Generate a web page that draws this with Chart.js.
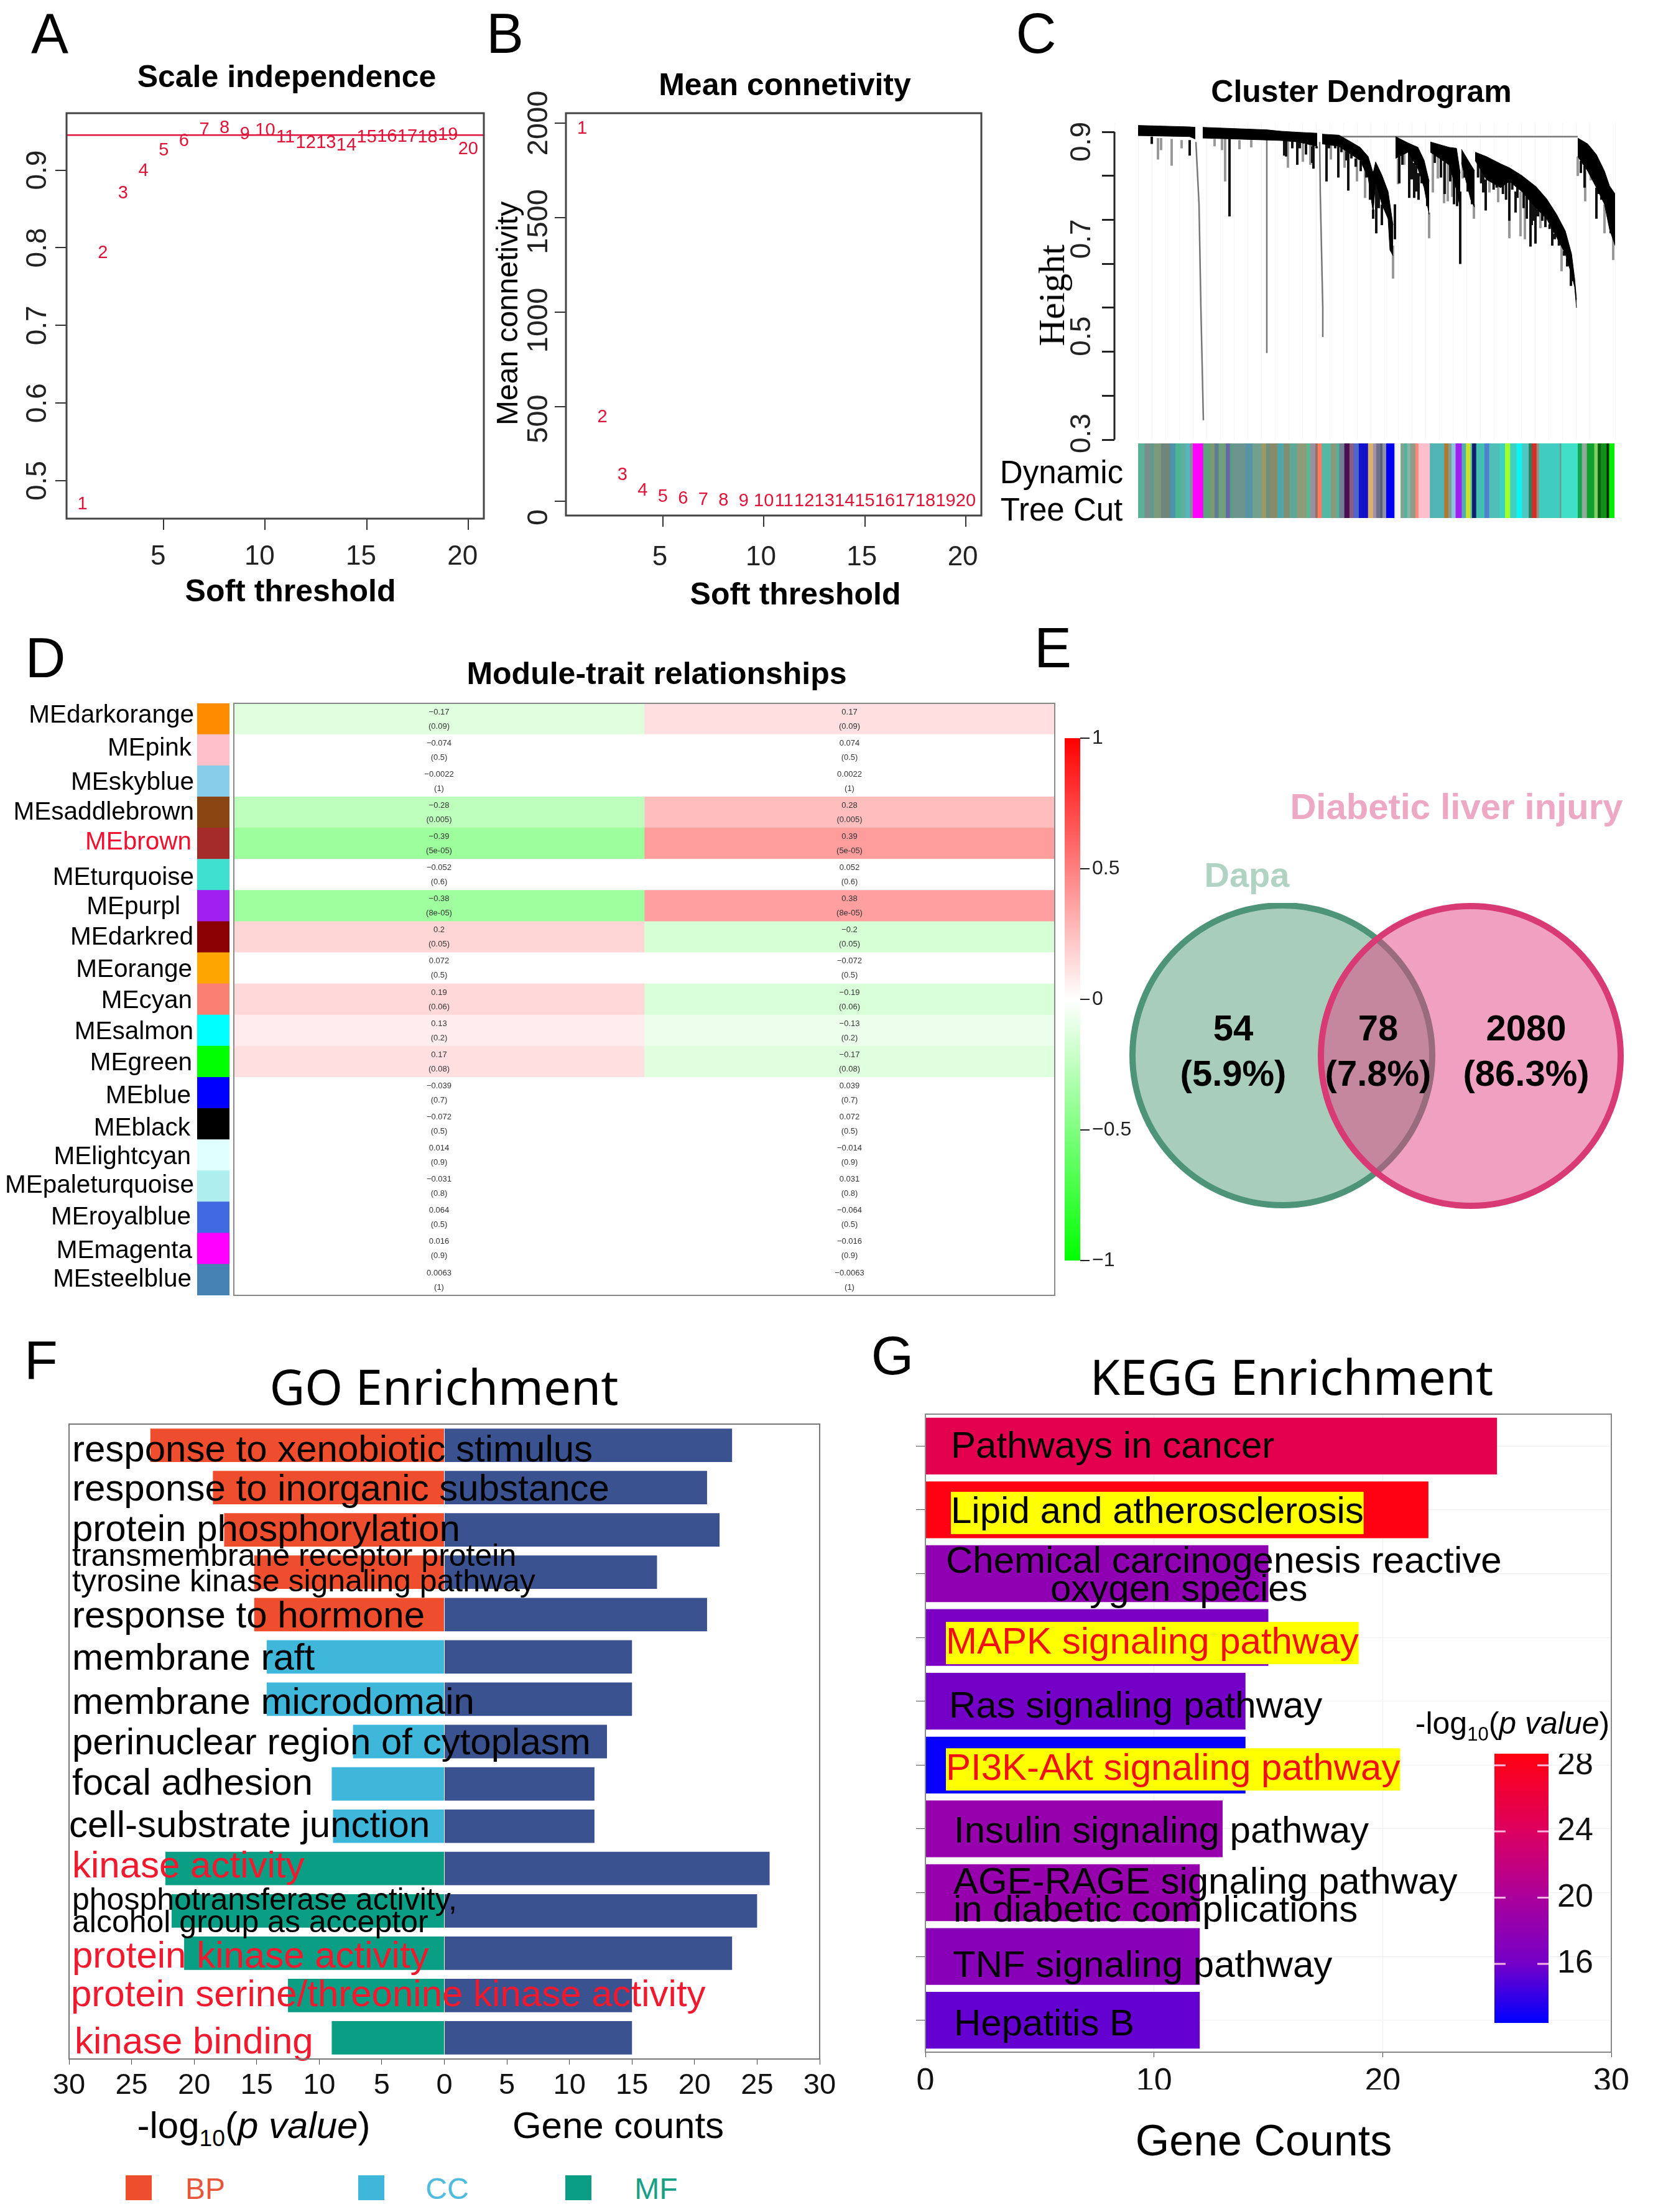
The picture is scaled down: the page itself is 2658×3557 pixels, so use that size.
<!DOCTYPE html>
<html><head><meta charset="utf-8">
<script src="https://cdn.jsdelivr.net/npm/chart.js@4"></script>
<style>
html,body{margin:0;padding:0;background:#fff}
#page{position:relative;width:2658px;height:3557px;overflow:hidden;background:#fff;font-family:"Liberation Sans",Arial,sans-serif}
canvas{position:absolute}
.t{position:absolute;white-space:nowrap;line-height:1;color:#000}
sub{font-size:.62em;line-height:0}
</style></head><body><div id="page"></div>
<script>
// ---------- Panel A / B ----------
const softPower=[1,2,3,4,5,6,7,8,9,10,11,12,13,14,15,16,17,18,19,20];
const scaleFit=[0.470,0.793,0.870,0.899,0.925,0.937,0.952,0.954,0.946,0.951,0.942,0.935,0.935,0.932,0.942,0.943,0.943,0.942,0.945,0.927];
const cutoffLine=[0.945,0.945];
const meanConn=[1969,445,140,55,25,14,8,4,2,1,1,1,1,1,1,1,1,1,1,1];
const fitTicks=[0.5,0.6,0.7,0.8,0.9];
const connTicks=[0,500,1000,1500,2000];
const powerTicks=[5,10,15,20];
// ---------- Panel C: dendrogram ----------
const bandX=[0,83,92,98,104,207,230,257,288,292,296,323,337,357,370,378,382,392,402,405,410,412,414,434,450,460,468,469,470,500,512,518,519,520,535,541,541.5,542,560,583,597,617,640,657,673,687,697,702,705,706,707,723,737,750,758,767];
const bandTop=[.923,.920,.919,NaN,.919,.914,.911,.909,.907,NaN,.905,.903,.893,.878,.859,.825,.848,.821,.787,.761,.718,NaN,.900,.887,.878,.851,.808,NaN,.889,.878,.876,.825,NaN,.874,.842,.830,NaN,.868,.859,.844,.836,.820,.797,.772,.740,.706,.659,.608,.565,NaN,.897,.885,.863,.829,.799,.782];
const bandBot=[.902,.900,.895,NaN,.897,.893,.892,.889,.880,NaN,.885,.880,.868,.851,.816,.744,.808,.761,.731,.667,.655,NaN,.855,.868,.834,.795,.740,NaN,.868,.842,.791,.753,NaN,.846,.770,.755,NaN,.851,.812,.795,.808,.787,.753,.731,.693,.659,.616,.591,.548,NaN,.859,.829,.795,.761,.710,.676];
const darkX=[22,83,147,235,256,282,303,322,338,383,413,436,444,451,518,559,597,607,631,639,666,696,737,760,546.7,551.7,555,566.7,571.7,576.7,586.7,591.7,601.7,610,620,625,633,636.7,643,650,655,661.7,670,676.7,685,690,698,420,425,440,447,456,462,465,477,487,493,502,508,513,525,530,537,373,378,387,392,397,403,407,712,718,732,740,745,755,238,248,260,270,280,287,307,317,327,335,343,350,358,367];
const darkTop=[.900,.893,.895,.893,.889,.885,.885,.880,.872,.825,.761,.876,.846,.825,.787,.812,.808,.787,.782,.782,.718,.634,.795,.710,.845,.84,.83,.83,.825,.82,.81,.81,.81,.80,.785,.78,.77,.76,.75,.745,.735,.72,.70,.69,.665,.65,.62,.86,.87,.86,.84,.83,.81,.77,.868,.86,.85,.84,.82,.80,.85,.83,.78,.82,.75,.80,.76,.77,.74,.70,.85,.84,.83,.80,.79,.76,.892,.89,.889,.885,.88,.88,.885,.882,.88,.87,.865,.855,.85,.83];
const darkBot=[.885,.861,.736,.861,.842,.834,.808,.816,.789,.701,.689,.774,.774,.770,.638,.748,.727,.744,.674,.680,.676,.593,.731,.701,.816,.804,.785,.808,.791,.795,.782,.77,.791,.774,.753,.731,.718,.727,.736,.727,.714,.71,.689,.676,.655,.633,.603,.804,.842,.812,.787,.804,.791,.757,.846,.816,.782,.808,.761,.757,.816,.787,.761,.77,.731,.753,.718,.753,.731,.667,.825,.795,.816,.782,.77,.74,.859,.876,.876,.863,.846,.876,.876,.876,.868,.851,.855,.838,.829,.816];
const grayX=[32,37,54,70,123,135,140,163,182,241,265,277,310,332,352,365,392,410,418,428,468,474,482,492,498,505,522,540,565,579,597,615,622,647,681,707,719,728,750,764];
const grayTop=[.897,.897,.895,.893,.895,.895,.895,.893,.893,.893,.889,.889,.885,.880,.859,.846,.761,.676,.855,.876,.744,.868,.868,.846,.846,.846,.846,.761,.825,.804,.808,.787,.787,.753,.676,.859,.829,.834,.761,.782];
const grayBot=[.853,.872,.840,.876,.880,.872,.808,.874,.878,.836,.848,.842,.853,.836,.808,.774,.718,.608,.802,.842,.691,.785,.814,.763,.767,.776,.814,.731,.785,.765,.691,.695,.689,.712,.623,.819,.767,.810,.701,.646];
const thinX=[93,98,101,105,NaN,207,207,NaN,292,293,297,297,NaN,323,707];
const thinY=[.889,.761,.548,.317,NaN,.914,.455,NaN,.889,.782,.548,.488,NaN,.900,.900];
const dendroMarks=[.9098,.8194,.7290,.6386,.5482,.4578,.3674,.277];
const dendroLabels=[.3,.5,.7,.9];
const stripColors=['#5CB09A','#7A8F8A','#5B9A8E','#7C9A7A','#70857C','#4C93AC','#4FB496','#5FAE9E','#55B5C0','#8A8FA0','#FF00FF','#5FA37E','#7E9A6C','#5C7F95','#6FA07A','#6868A8','#5A9F80','#6E9490','#5593A5','#73A08E','#A09A60','#6F9080','#8A8A68','#4FA5AA','#7F8F70','#5EA898','#8F9A78','#5CB890','#9A8FA0','#8F6F60','#FF7A60','#55B8A5','#8A9A78','#55B09A','#6F8095','#4A0F50','#8A5A85','#4F68C8','#1212C8','#D8B070','#A090A8','#70708A','#50607A','#9090A0','#0000F0','#DDD8C0','#F4F4F0','#7FA590','#55B0A0','#7FB8A8','#8F9A88','#FF8A78','#FFC0CB','#50B4B4','#B07830','#7FA090','#8FC0E0','#A020F0','#50B0B0','#C8E030','#50B8B0','#10206E','#40C0B0','#4F80D0','#4FC0B8','#40D0C0','#A0FF30','#40D0C0','#10F0F0','#50C8C0','#2A8060','#D03028','#A08A78','#40CCC0','#6F9A90','#40E0C8','#10A850','#90A898','#10A030','#80D060','#0E6018','#109018','#0A2A0A','#00F000'];
const stripSizes=[30,30,15,35,45,25,30,20,20,15,50,35,20,20,35,20,15,60,35,45,20,20,35,30,30,35,45,20,25,10,20,45,25,15,25,25,20,25,45,25,15,20,10,18,40,4,26,17,15,15,25,15,55,70,20,15,20,30,20,23,7,20,40,23,50,27,25,30,28,32,15,23,12,100,8,80,20,24,36,17,15,28,12,27];
// ---------- Panel D ----------
const modules=['MEdarkorange','MEpink','MEskyblue','MEsaddlebrown','MEbrown','MEturquoise','MEpurpl','MEdarkred','MEorange','MEcyan','MEsalmon','MEgreen','MEblue','MEblack','MElightcyan','MEpaleturquoise','MEroyalblue','MEmagenta','MEsteelblue'];
const moduleColors=['#FF8C00','#FFC0CB','#87CEEB','#8B4513','#A52A2A','#40E0D0','#A020F0','#8B0000','#FFA500','#FA8072','#00FFFF','#00FF00','#0000FF','#000000','#E0FFFF','#AFEEEE','#4169E1','#FF00FF','#4682B4'];
const traitOne=[-0.17,-0.074,-0.0022,-0.28,-0.39,-0.052,-0.38,0.2,0.072,0.19,0.13,0.17,-0.039,-0.072,0.014,-0.031,0.064,0.016,0.0063];
const traitTwo=[0.17,0.074,0.0022,0.28,0.39,0.052,0.38,-0.2,-0.072,-0.19,-0.13,-0.17,0.039,0.072,-0.014,0.031,-0.064,-0.016,-0.0063];
const traitP=['0.09','0.5','1','0.005','5e-05','0.6','8e-05','0.05','0.5','0.06','0.2','0.08','0.7','0.5','0.9','0.8','0.5','0.9','1'];
const corrTicks=[-1,-0.5,0,0.5,1];
// ---------- Panel E ----------
const vennNames=['Dapa','Diabetic liver injury'];
const vennX=[248,551];
const vennY=[245,246];
const vennCounts=['54','78','2080'];
const vennShares=['(5.9%)','(7.8%)','(86.3%)'];
// ---------- Panel F ----------
const goTerms=[['response to xenobiotic stimulus'],['response to inorganic substance'],['protein phosphorylation'],['transmembrane receptor protein','tyrosine kinase signaling pathway'],['response to hormone'],['membrane raft'],['membrane microdomain'],['perinuclear region of cytoplasm'],['focal adhesion'],['cell-substrate junction'],['kinase activity'],['phosphotransferase activity,','alcohol group as acceptor'],['protein kinase activity'],['protein serine/threonine kinase activity'],['kinase binding']];
const goClass=['BP','BP','BP','BP','BP','CC','CC','CC','CC','CC','MF','MF','MF','MF','MF'];
const goLogP=[23.5,18.5,17.6,15.2,15.2,14.2,14.2,7.3,9,8.9,22.3,21.8,20.8,12.5,9];
const goCounts=[23,21,22,17,21,15,15,13,12,12,26,25,23,15,15];
const goRedTerms=[10,12,13,14];
const goTicks=[-30,-25,-20,-15,-10,-5,0,5,10,15,20,25,30];
// ---------- Panel G ----------
const keggTerms=[['Pathways in cancer'],['Lipid and atherosclerosis'],['Chemical carcinogenesis reactive','oxygen species'],['MAPK signaling pathway'],['Ras signaling pathway'],['PI3K-Akt signaling pathway'],['Insulin signaling pathway'],['AGE-RAGE signaling pathway','in diabetic complications'],['TNF signaling pathway'],['Hepatitis B']];
const keggCounts=[25,22,15,15,14,14,13,12,12,12];
const keggLogP=[25,28.6,18,16.5,16,12.6,18.5,18.5,17.5,15.5];
const keggHighlight=[1,3,5];
const keggRed=[3,5];
const keggTicks=[0,10,20,30];
const keggBarTicks=[16,20,24,28];

// ---------- helpers ----------
const SANS='"Liberation Sans",Arial,sans-serif';
Chart.defaults.animation=false;
Chart.defaults.responsive=false;
Chart.defaults.devicePixelRatio=1;
Chart.defaults.font.family=SANS;
Chart.defaults.color='#111';
Chart.defaults.plugins.legend.display=false;
Chart.defaults.plugins.tooltip.enabled=false;
const page=document.getElementById('page');
const zero=s=>{s.paddingLeft=s.paddingRight=s.paddingTop=s.paddingBottom=0;};
const fitH=h=>s=>{s.height=h;zero(s);};
const fitW=w=>s=>{s.width=w;zero(s);};
const fixed=a=>s=>{s.ticks=a.map(v=>({value:v}));};
function T(html,cx,cy,size,o={}){
  const d=document.createElement('div');d.className='t';d.innerHTML=html;
  d.style.left=cx+'px';d.style.top=cy+'px';d.style.fontSize=size+'px';
  d.style.fontFamily=o.family||SANS;
  if(o.bold)d.style.fontWeight='bold';
  if(o.color)d.style.color=o.color;
  d.style.transform='translate(-50%,-50%)'+(o.rot?` rotate(${o.rot}deg)`:'')+(o.sx?` scaleX(${o.sx})`:'');
  d.style.zIndex=5;page.appendChild(d);
}
function mk(box,m,cfg){
  const c=document.createElement('canvas');
  const w=box.r-box.l+m.l+m.r,h=box.b-box.t+m.t+m.b;
  c.width=w;c.height=h;c.style.left=(box.l-m.l)+'px';c.style.top=(box.t-m.t)+'px';
  c.style.width=w+'px';c.style.height=h+'px';page.appendChild(c);
  cfg.options=cfg.options||{};
  cfg.options.layout={autoPadding:false,padding:m.pad||{top:m.t,right:m.r}};
  return new Chart(c,cfg);
}
Chart.register({id:'frame',afterDraw(ch,a,o){
  if(!o.color)return;const {left,top,right,bottom}=ch.chartArea,c=ch.ctx;
  c.save();c.strokeStyle=o.color;c.lineWidth=o.width||2;c.strokeRect(left,top,right-left,bottom-top);c.restore();
}});
Chart.register({id:'spine',afterDraw(ch,a,o){
  if(!o.from)return;const y=ch.scales.y,c=ch.ctx,x=ch.chartArea.left;
  c.save();c.strokeStyle=o.color;c.lineWidth=o.width;c.beginPath();c.moveTo(x,y.getPixelForValue(o.from));c.lineTo(x,y.getPixelForValue(o.to));c.stroke();c.restore();
}});
Chart.register({id:'pointText',afterDatasetsDraw(ch){
  ch.data.datasets.forEach((ds,i)=>{ if(!ds.textLabels)return;
    const c=ch.ctx,mt=ch.getDatasetMeta(i);c.save();c.font=ds.textFont;c.fillStyle=ds.textColor;c.textAlign='center';c.textBaseline='middle';
    mt.data.forEach((p,j)=>c.fillText(ds.textLabels[j],p.x,p.y));c.restore();});
}});
Chart.register({id:'cellText',afterDatasetsDraw(ch){
  ch.data.datasets.forEach((ds,i)=>{ if(!ds.cellLines)return;
    const c=ch.ctx,mt=ch.getDatasetMeta(i);c.save();c.font='13px '+SANS;c.fillStyle='#333';c.textAlign='center';c.textBaseline='middle';
    mt.data.forEach((b,j)=>{const cx=(b.x+b.base)/2;c.fillText(ds.cellLines[j][0],cx,b.y-11);c.fillText(ds.cellLines[j][1],cx,b.y+12);});c.restore();});
}});
Chart.register({id:'rowText',afterDatasetsDraw(ch,a,o){
  if(!o.labels)return;const c=ch.ctx,y=ch.scales.y,L=ch.chartArea.left;c.save();c.textAlign=o.align||'left';c.textBaseline='middle';
  o.labels.forEach((lines,i)=>{
    const n=lines.length,fs=o.size[i],lh=o.leading[i],yc=y.getPixelForValue(i)+o.dy[i];
    c.font=fs+'px '+SANS;
    if(o.highlight&&o.highlight.includes(i)){const w=c.measureText(lines[0]).width;c.fillStyle='#FFFF00';c.fillRect(L+o.dx[i][0],yc-34,w,68);}
    c.fillStyle=(o.red.includes(i))?o.redColor:'#000';
    lines.forEach((t,k)=>c.fillText(t,L+o.dx[i][k],yc+(k-(n-1)/2)*lh));
  });c.restore();
}});
Chart.register({id:'whiteTicks',afterDatasetsDraw(ch,a,o){
  if(!o.values)return;const c=ch.ctx,y=ch.scales.y,{left,right}=ch.chartArea;c.save();c.strokeStyle='rgba(255,190,230,.95)';c.lineWidth=3;
  o.values.forEach(v=>{const p=y.getPixelForValue(v);c.beginPath();c.moveTo(left,p);c.lineTo(left+18,p);c.moveTo(right-18,p);c.lineTo(right,p);c.stroke();});c.restore();
}});
const markAxis=(vals,fit)=>({type:'linear',afterBuildTicks:fixed(vals),afterFit:fit,weight:1,border:{display:false},grid:{drawOnChartArea:false,color:'#333',lineWidth:2,tickLength:18},ticks:{display:false}});
const labelBase=(vals,fit)=>({type:'linear',afterBuildTicks:fixed(vals),afterFit:fit,weight:2,border:{display:false},grid:{display:false}});

// ---------- A ----------
mk({l:107,r:778,t:182,b:834},{l:100,r:30,t:6,b:86},{type:'scatter',data:{datasets:[
  {data:softPower.map((x,i)=>({x,y:scaleFit[i]})),pointRadius:0,textLabels:softPower.map(String),textFont:'29px '+SANS,textColor:'#DE1538'},
  {type:'line',data:[{x:0.215,y:cutoffLine[0]},{x:20.77,y:cutoffLine[1]}],borderColor:'#E0143C',borderWidth:2.5,pointRadius:0}
]},options:{plugins:{frame:{color:'#444',width:3}},scales:{
  x:{...markAxis(powerTicks,fitH(18)),min:0.215,max:20.77},
  x2:{...labelBase(powerTicks,fitH(68)),position:'bottom',min:0.491,max:21.05,ticks:{font:{size:44},maxRotation:0,padding:9,color:'#222'}},
  y:{...markAxis(fitTicks,fitW(100)),min:0.4512,max:0.9733,ticks:{font:{size:46},minRotation:90,maxRotation:90,crossAlign:'center',padding:-4,color:'#222',callback:v=>v.toFixed(1)}}
}}});
T('A',80,54,90);T('Scale independence',461,123,50,{bold:true});T('Soft threshold',467,950,50,{bold:true});

// ---------- B ----------
mk({l:910,r:1578,t:182,b:829},{l:90,r:30,t:60,b:90},{type:'scatter',data:{datasets:[
  {data:softPower.map((x,i)=>({x,y:meanConn[i]})),pointRadius:0,textLabels:softPower.map(String),textFont:'29px '+SANS,textColor:'#DE1538'}
]},options:{plugins:{frame:{color:'#444',width:3}},scales:{
  x:{...markAxis(powerTicks,fitH(18)),min:0.2,max:20.77},
  x2:{...labelBase(powerTicks,fitH(72)),position:'bottom',min:0.35,max:20.92,ticks:{font:{size:44},maxRotation:0,padding:15,color:'#222'}},
  y:{...markAxis(connTicks,fitW(18)),min:-75,max:2052},
  y2:{...labelBase(connTicks,fitW(72)),position:'left',min:9.5,max:2050,ticks:{font:{size:47},minRotation:90,maxRotation:90,crossAlign:'center',padding:-35,color:'#222',callback:v=>String(v)}}
}}});
T('B',812,54,90);T('Mean connetivity',1262,136,50,{bold:true});T('Soft threshold',1279,955,50,{bold:true});
T('Mean connetivity',816,504,48,{rot:-90});

// ---------- C dendrogram ----------
const pts=(xs,ys)=>xs.map((x,i)=>({x,y:ys[i]}));
const bars=(xs,a,b)=>xs.flatMap((x,i)=>[{x,y:a[i]},{x,y:b[i]},{x,y:NaN}]);
mk({l:1792,r:2597,t:198,b:707},{l:132,r:3,t:6,b:40,pad:{top:6,right:3,bottom:40}},{type:'line',data:{datasets:[
  {data:pts(bandX,bandTop),fill:'+1',backgroundColor:'#000',borderColor:'#000',borderWidth:1,pointRadius:0,spanGaps:false},
  {data:pts(bandX,bandBot),backgroundColor:'#000',borderColor:'#000',borderWidth:1,pointRadius:0,spanGaps:false},
  {data:bars(darkX,darkTop,darkBot),borderColor:'#111',borderWidth:4,pointRadius:0,spanGaps:false},
  {data:pts(thinX,thinY),borderColor:'#777',borderWidth:2.5,pointRadius:0,spanGaps:false},
  {data:bars(grayX,grayTop,grayBot),borderColor:'#999',borderWidth:4,pointRadius:0,spanGaps:false}
]},options:{plugins:{spine:{from:dendroMarks[0],to:dendroMarks[7],color:'#222',width:3}},scales:{
  x:{type:'linear',min:-38,max:767,afterFit:fitH(0),border:{display:false},ticks:{display:false,stepSize:22},grid:{color:'#f6f6f6',drawTicks:false}},
  y:{type:'linear',min:.277,max:.9277,weight:1,afterBuildTicks:fixed(dendroMarks),afterFit:fitW(20),border:{display:false},grid:{drawOnChartArea:false,color:'#222',lineWidth:3,tickLength:20},ticks:{display:false}},
  y2:{type:'linear',position:'left',min:.2872,max:.9384,weight:2,afterBuildTicks:fixed(dendroLabels),afterFit:fitW(112),border:{display:false},grid:{display:false},ticks:{font:{size:46},minRotation:90,maxRotation:90,crossAlign:'center',padding:-8,color:'#222',callback:v=>v.toFixed(1)}}
}}});
mk({l:1830,r:2596,t:713,b:833},{l:0,r:0,t:0,b:0,pad:{}},{type:'bar',data:{labels:['Dynamic Tree Cut'],datasets:stripSizes.map((v,i)=>({data:[v],backgroundColor:stripColors[i],barPercentage:1,categoryPercentage:1,stack:'s'}))},
 options:{indexAxis:'y',scales:{x:{display:false,stacked:true,min:0,max:stripSizes.reduce((a,b)=>a+b,0)},y:{display:false,stacked:true}}}});
T('C',1666,54,90);T('Cluster Dendrogram',2189,147,50,{bold:true});
T('Height',1691,475,60,{rot:-90,family:'"Liberation Serif",serif'});
T('Dynamic',1707,759,51);T('Tree Cut',1707,819,51);

// ---------- D ----------
mk({l:317,r:369,t:1130.5,b:2083},{l:317,r:0,t:0,b:0,pad:{left:317}},{type:'bar',data:{labels:modules,datasets:[{data:modules.map(()=>1),backgroundColor:moduleColors,barPercentage:1,categoryPercentage:1}]},
 options:{indexAxis:'y',plugins:{rowText:{labels:modules.map(m=>[m]),align:'right',size:modules.map(()=>40.5),leading:modules.map(()=>40),
   dy:[-5,-2,3,0,-2,5,2,1.5,3,2.5,3,3,6,7,3,-1,0,4,0],
   dx:[-5,-9,-5,-5,-9,-5,-27,-6,-8,-8,-6,-8,-10,-11,-10,-5,-10,-8,-9].map(v=>[v]),
   red:[4],redColor:'#F01030'}},
  scales:{x:{display:false,min:0,max:1},y:{display:false}}}});
const shade=v=>{const a=Math.abs(v);const s=a<0.1?0:1.2*a-0.08;const o=Math.round(255*(1-s));return v>0?`rgb(255,${o},${o})`:`rgb(${o},255,${o})`;};
const fmtCorr=v=>String(v).replace('-','\u2212');
mk({l:376,r:1696,t:1130.5,b:2083},{l:2,r:2,t:2,b:2,pad:{left:2,right:2,top:2,bottom:2}},{type:'bar',data:{labels:modules,datasets:[
 {data:modules.map(()=>1),backgroundColor:traitOne.map(shade),barPercentage:1,categoryPercentage:1,cellLines:traitOne.map((v,i)=>[fmtCorr(v),'('+traitP[i]+')'])},
 {data:modules.map(()=>1),backgroundColor:traitTwo.map(shade),barPercentage:1,categoryPercentage:1,cellLines:traitTwo.map((v,i)=>[fmtCorr(v),'('+traitP[i]+')'])}
]},options:{indexAxis:'y',plugins:{frame:{color:'#888',width:2}},scales:{x:{display:false,stacked:true,min:0,max:2},y:{display:false,stacked:true}}}});
mk({l:1712,r:1737,t:1187,b:2027},{l:0,r:100,t:20,b:20,pad:{top:20,bottom:20}},{type:'bar',data:{labels:['correlation'],datasets:[{data:[[-1,1]],barPercentage:1,categoryPercentage:1,
  backgroundColor(ctx){const a=ctx.chart.chartArea;if(!a)return '#fff';const g=ctx.chart.ctx.createLinearGradient(0,a.top,0,a.bottom);g.addColorStop(0,'#FF0000');g.addColorStop(.5,'#FFFFFF');g.addColorStop(1,'#00FF00');return g;}}]},
 options:{scales:{x:{display:false},y:{position:'right',min:-1,max:1,afterBuildTicks:fixed(corrTicks),afterFit:fitW(100),border:{display:false},grid:{drawOnChartArea:false,color:'#222',lineWidth:2,tickLength:15},ticks:{font:{size:32},padding:4,color:'#222',callback:v=>String(v).replace('-','\u2212')}}}}});
T('D',73,1058,90);T('Module-trait relationships',1056,1083,50,{bold:true});

// ---------- E ----------
const vennBox={l:1814,r:2658,t:1452,b:1946};
mk(vennBox,{l:0,r:0,t:0,b:0,pad:{}},{type:'bubble',data:{datasets:[
 {label:vennNames[1],data:[{x:vennX[1],y:vennY[1],r:241}],backgroundColor:'rgba(225,65,129,.5)',borderColor:'#D83B73',borderWidth:10,clip:false},
 {label:vennNames[0],data:[{x:vennX[0],y:vennY[0],r:241}],backgroundColor:'rgba(81,157,119,.5)',borderColor:'#4E9478',borderWidth:10,clip:false}
]},options:{scales:{x:{display:false,min:0,max:844},y:{display:false,min:0,max:494,reverse:true}}}});
T('E',1693,1042,90);
T(vennNames[0],2005,1407,56,{bold:true,color:'#B1D3C4'});
T(vennNames[1],2342,1297,58,{bold:true,color:'#EDA9C4'});
[[1983,0],[2216,1],[2454,2]].forEach(([x,i])=>{T(vennCounts[i],x,1653,58,{bold:true});T(vennShares[i],x,1726,58,{bold:true});});

// ---------- F ----------
const classColor={BP:'#EF4E2E',CC:'#3FB7DB',MF:'#0A9E85'};
const goSize=goTerms.map(t=>t.length>1?50:60);
mk({l:111,r:1318,t:2290,b:3311},{l:40,r:60,t:4,b:60,pad:{top:4,right:60,left:40}},{type:'bar',data:{labels:goTerms.map(t=>t.join(' ')),datasets:[
 {label:'-log10(p value)',data:goLogP.map(v=>-v),backgroundColor:goClass.map(c=>classColor[c]),barPercentage:.79,categoryPercentage:1},
 {label:'Gene counts',data:goCounts,backgroundColor:'#3A5390',barPercentage:.79,categoryPercentage:1}
]},options:{indexAxis:'y',plugins:{frame:{color:'#777',width:2},rowText:{labels:goTerms,size:goSize,
   leading:goTerms.map((t,i)=>i===3?41:36),dy:[9,4,1,-4,4,4,7,4,1,1,-2,2,7,1,8],
   dx:goTerms.map((t,i)=>i===9?[0]:i===13?[3]:i===14?[9]:[5,5]),red:goRedTerms,redColor:'#F0192D'}},
 scales:{x:{min:-30,max:30,stacked:true,afterBuildTicks:fixed(goTicks),afterFit:fitH(60),border:{display:false},grid:{drawOnChartArea:false,color:'#444',tickLength:9},ticks:{font:{size:47},maxRotation:0,autoSkip:false,padding:6,color:'#111',callback:v=>Math.abs(v)}},
  y:{display:false,stacked:true}}}});
T('F',66,2187,88);T('GO Enrichment',714,2229,78,{family:'"Noto Sans",sans-serif'});
T('-log<sub>10</sub>(<i>p value</i>)',408,3418,60);T('Gene counts',994,3418,60);
const legendBoxes=[['BP',202,330,'#E8563A'],['CC',576,719,'#4FBBDD'],['MF',909,1055,'#16A085']];
legendBoxes.forEach(([n,x,tx,col])=>{const d=document.createElement('div');d.style.cssText=`position:absolute;left:${x}px;top:3498px;width:42px;height:40px;background:${classColor[n]}`;page.appendChild(d);T(n,tx,3520,48,{color:col});});

// ---------- G ----------
const ramp=[[12.43,[0,0,255]],[16,[116,0,200]],[20,[170,0,156]],[24,[220,0,96]],[28.7,[255,0,16]]];
const rampAt=v=>{for(let i=1;i<ramp.length;i++){if(v<=ramp[i][0]){const t=Math.max(0,(v-ramp[i-1][0])/(ramp[i][0]-ramp[i-1][0]));const a=ramp[i-1][1],b=ramp[i][1];return `rgb(${a.map((u,k)=>Math.round(u+(b[k]-u)*t)).join(',')})`;}}return 'rgb(255,0,16)';};
mk({l:1488,r:2591,t:2274,b:3300},{l:20,r:50,t:4,b:60,pad:{top:4,right:50}},{type:'bar',data:{labels:keggTerms.map(t=>t.join(' ')),datasets:[
 {label:'Gene Counts',data:keggCounts,backgroundColor:keggLogP.map(rampAt),barPercentage:.89,categoryPercentage:1}
]},options:{indexAxis:'y',plugins:{frame:{color:'#888',width:2},rowText:{labels:keggTerms,size:keggTerms.map(()=>60),
  leading:keggTerms.map(()=>45),dy:[2,5,4,9,10,7,6,7,16,8],
  dx:[[41],[41],[33,201],[33],[38],[33],[46],[45,45],[44],[46]],highlight:keggHighlight,red:keggRed,redColor:'#F01010'}},
 scales:{x:{min:0,max:30,afterBuildTicks:fixed(keggTicks),afterFit:fitH(60),border:{display:false},grid:{color:'#eee',tickColor:'#444',tickLength:8},ticks:{font:{size:52},maxRotation:0,autoSkip:false,padding:8,color:'#111'}},
  y:{afterFit:fitW(20),border:{display:false},grid:{offset:false,color:'#f0f0f0',tickColor:'#555',tickLength:15,drawTicks:true},ticks:{display:false}}}}});
T('G',1435,2180,88);T('KEGG Enrichment',2077,2213,78,{family:'"Noto Sans",sans-serif'});
T('Gene Counts',2032,3442,70);
T('-log<sub>10</sub>(<i>p value</i>)',2432,2771,50);
mk({l:2403,r:2490,t:2820,b:3253},{l:0,r:90,t:0,b:0,pad:{}},{type:'bar',data:{labels:['-log10(p value)'],datasets:[{data:[[12.43,28.7]],barPercentage:1,categoryPercentage:1,
  backgroundColor(ctx){const a=ctx.chart.chartArea;if(!a)return '#fff';const y=ctx.chart.scales.y,g=ctx.chart.ctx.createLinearGradient(0,a.top,0,a.bottom);
   ramp.forEach(([v,c])=>g.addColorStop(Math.min(1,Math.max(0,(y.getPixelForValue(v)-a.top)/(a.bottom-a.top))),`rgb(${c.join(',')})`));return g;}}]},
 options:{plugins:{whiteTicks:{values:keggBarTicks}},scales:{x:{display:false},y:{position:'right',min:12.43,max:28.7,afterBuildTicks:fixed(keggBarTicks),afterFit:fitW(90),border:{display:false},grid:{display:false,drawTicks:false},ticks:{font:{size:52},padding:14,color:'#111'}}}}});
</script></body></html>
